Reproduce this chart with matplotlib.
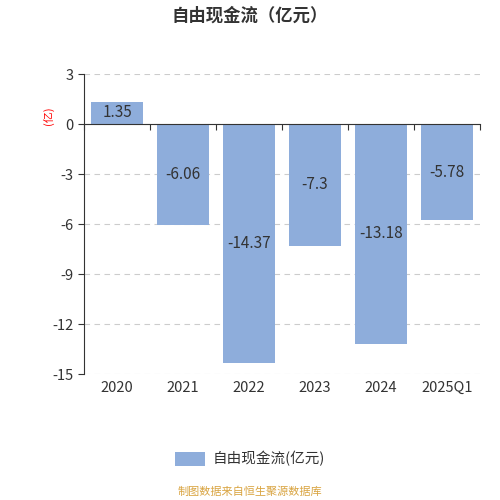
import matplotlib.pyplot as plt
import numpy as np
from matplotlib.patches import Patch
from matplotlib import transforms

plt.rcParams['font.family'] = ['Noto Sans CJK SC', 'DejaVu Sans']

years = ['2020', '2021', '2022', '2023', '2024', '2025Q1']
values = [1.35, -6.06, -14.37, -7.3, -13.18, -5.78]
yticks = [3, 0, -3, -6, -9, -12, -15]

barColor = '#8eaddb'
textColor = '#333333'

fig = plt.figure(figsize=(5, 5), dpi=100)
ax = fig.add_axes([0.168, 0.252, 0.792, 0.6])

x = np.arange(len(years))
ax.bar(x, values, width=0.79, color=barColor, zorder=2)
for xi, v in zip(x, values):
    ax.text(xi, v / 2, f'{v:g}', ha='center', va='center', fontsize=11, color=textColor, zorder=3)

ax.set_xlim(-0.5, len(years) - 0.5)
ax.set_ylim(-15, 3)
ax.set_yticks(yticks)
ax.set_yticklabels([str(t) for t in yticks], fontsize=10.5, color=textColor)
ax.yaxis.grid(True, linestyle=(0, (5, 4)), color='#cccccc', linewidth=0.8, zorder=0)

# zero line with ticks at category boundaries
ax.spines['bottom'].set_position(('data', 0))
ax.spines['bottom'].set_color(textColor)
ax.spines['left'].set_color(textColor)
ax.spines['top'].set_visible(False)
ax.spines['right'].set_visible(False)
ax.set_xticks(np.arange(len(years) + 1) - 0.5)
ax.set_xticklabels([])
ax.tick_params(axis='x', length=4, color=textColor)
ax.tick_params(axis='y', length=4, color=textColor)

trans = transforms.blended_transform_factory(ax.transData, ax.transAxes)
for xi, lab in zip(x, years):
    ax.text(xi, -0.045, lab, transform=trans, ha='center', va='center', fontsize=10.5, color=textColor)

ax.text(-0.09, 0.86, '(亿)', transform=ax.transAxes, rotation=90, ha='center', va='center',
        fontsize=8, color='red')

fig.text(0.5, 0.968, '自由现金流（亿元）', ha='center', va='center', fontsize=12.5,
         fontweight='bold', color=textColor)

fig.legend(handles=[Patch(facecolor=barColor, label='自由现金流(亿元)')], loc='center',
           bbox_to_anchor=(0.5, 0.082), frameon=False, fontsize=10.5, handlelength=2.1,
           handleheight=1.1, handletextpad=0.5, labelcolor=textColor)

fig.text(0.5, 0.016, '制图数据来自恒生聚源数据库', ha='center', va='center', fontsize=8, color='#d9a441')

fig.savefig('out.png')
